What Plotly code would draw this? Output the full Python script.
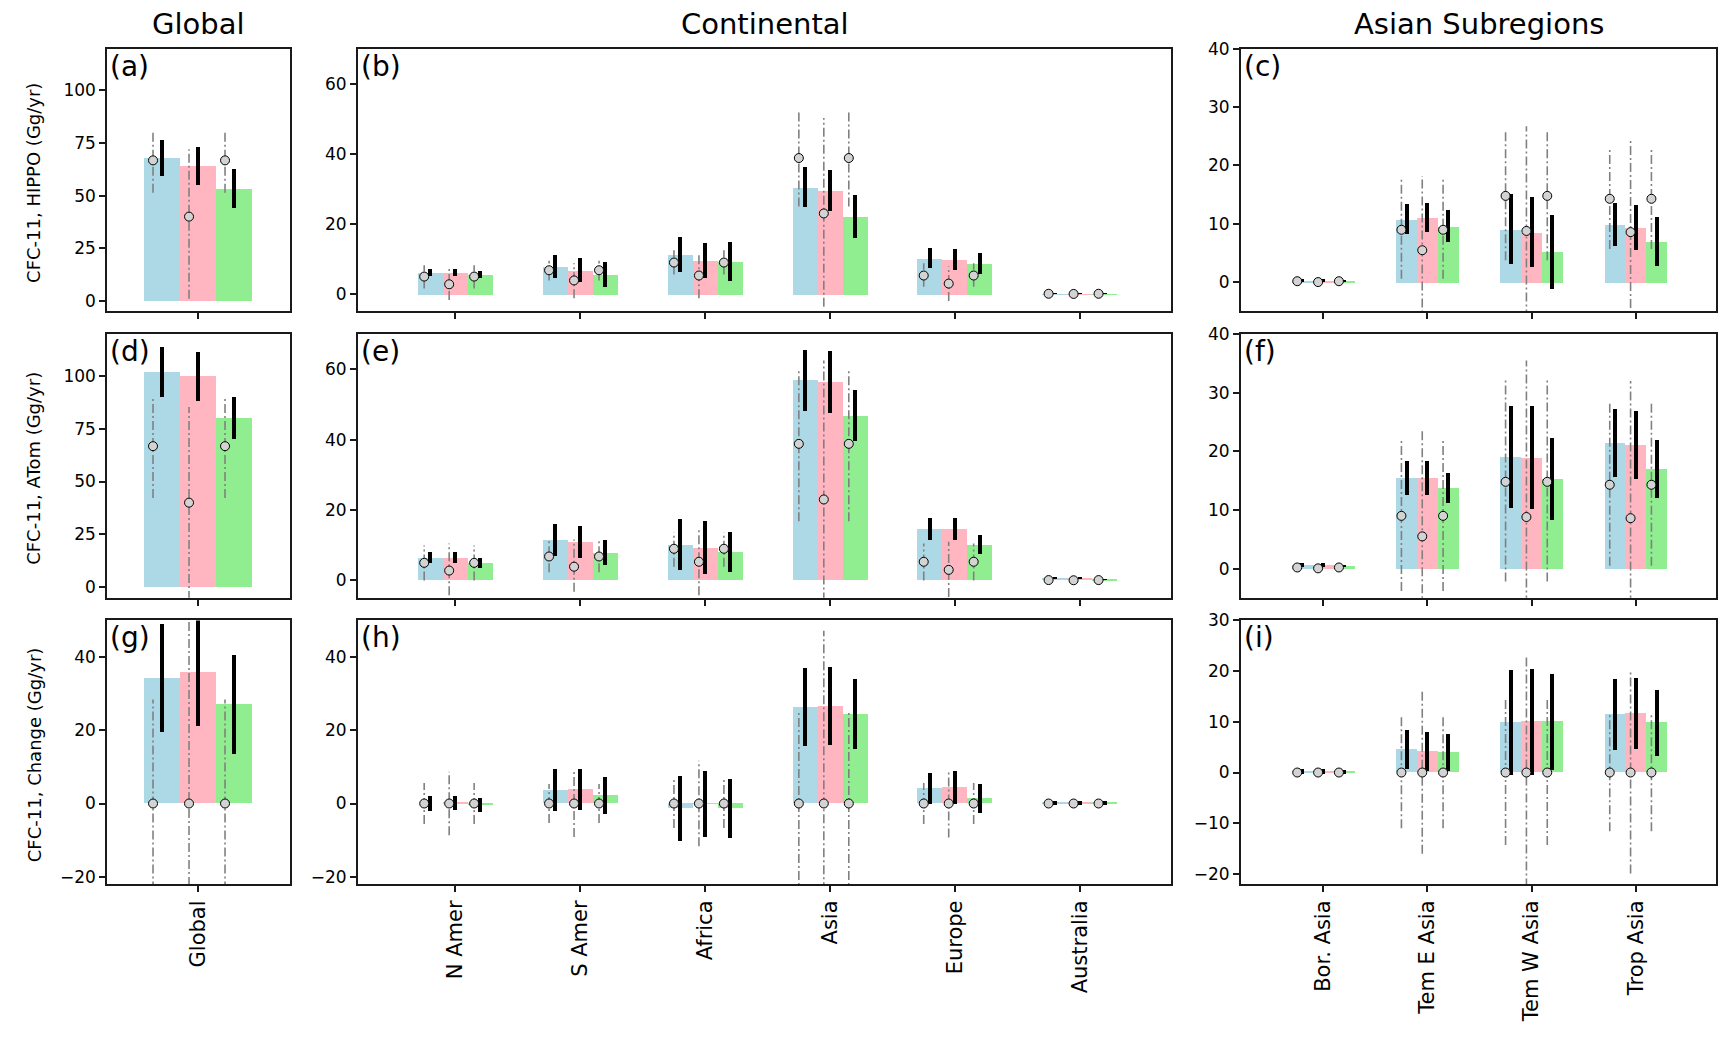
import plotly.graph_objects as go

# page size is 1731x1059; the browser adds an 8px body margin,
# so the figure itself is drawn 16px smaller and shifted by 8px.
PAGE_W, PAGE_H = 1731, 1059
MARGIN = 8
W, H = PAGE_W - 2 * MARGIN, PAGE_H - 2 * MARGIN

# ---------------- categories ----------------
global_cats = ["Global"]
cont_cats = ["N Amer", "S Amer", "Africa", "Asia", "Europe", "Australia"]
asia_cats = ["Bor. Asia", "Tem E Asia", "Tem W Asia", "Trop Asia"]

col_titles = ["Global", "Continental", "Asian Subregions"]
row_titles = ["CFC-11, HIPPO (Gg/yr)", "CFC-11, ATom (Gg/yr)", "CFC-11, Change (Gg/yr)"]
panel_letters = ["(a)", "(b)", "(c)", "(d)", "(e)", "(f)", "(g)", "(h)", "(i)"]

series_colors = ["#add8e6", "#ffb6c1", "#90ee90"]

# ---------------- prior (grey circles) ----------------
prior_global = [[66.7], [40.0], [66.7]]
prior_cont = [[5.0, 6.8, 9.0, 38.8, 5.3, 0.1],
              [2.8, 3.9, 5.3, 23.0, 3.0, 0.05],
              [5.0, 6.8, 9.0, 38.8, 5.3, 0.1]]
prior_asia = [[0.2, 9.0, 14.8, 14.3],
              [0.05, 5.5, 8.8, 8.6],
              [0.2, 9.0, 14.8, 14.3]]
prior_change_global = [[0.0], [0.0], [0.0]]
prior_change_cont = [[0.0] * 6, [0.0] * 6, [0.0] * 6]
prior_change_asia = [[0.0] * 4, [0.0] * 4, [0.0] * 4]

# ---------------- (a) HIPPO global ----------------
a_bars = [[67.8], [64.0], [53.3]]
a_err = [[8.35], [8.9], [9.35]]
a_lo = [[51.3], [1.0], [51.3]]
a_hi = [[80.8], [72.0], [80.8]]

# ---------------- (b) HIPPO continental ----------------
b_bars = [[6.2, 7.9, 11.3, 30.5, 10.2, 0.1],
          [6.2, 6.8, 9.6, 29.6, 9.9, 0.1],
          [5.6, 5.6, 9.3, 22.2, 8.8, 0.1]]
b_err = [[1.1, 3.25, 5.0, 5.75, 2.85, 0.2],
         [1.1, 3.4, 5.1, 5.8, 2.9, 0.2],
         [1.1, 3.5, 5.7, 6.1, 2.95, 0.2]]
b_lo = [[1.6, 3.9, 5.6, 25.0, 2.1, 0.0],
        [-1.7, -1.2, -1.2, -3.6, -2.0, -0.1],
        [1.6, 3.9, 5.6, 25.0, 2.1, 0.0]]
b_hi = [[8.2, 9.5, 12.5, 52.5, 8.8, 0.2],
        [7.6, 8.8, 11.9, 50.2, 7.9, 0.2],
        [8.2, 9.5, 12.5, 52.5, 8.8, 0.2]]

# ---------------- (c) HIPPO Asian subregions ----------------
c_bars = [[0.3, 10.8, 9.1, 9.9],
          [0.3, 11.1, 8.6, 9.4],
          [0.2, 9.6, 5.2, 7.0]]
c_err = [[0.2, 2.55, 5.95, 3.75],
         [0.2, 2.5, 6.0, 3.85],
         [0.15, 2.7, 6.4, 4.15]]
c_lo = [[0.1, 0.6, 3.8, 5.7],
        [0.0, -7.2, -9.1, -7.3],
        [0.1, 0.6, 3.8, 5.7]]
c_hi = [[0.3, 17.6, 25.9, 22.8],
        [0.1, 18.2, 26.7, 24.5],
        [0.3, 17.6, 25.9, 22.8]]

# ---------------- (d) ATom global ----------------
d_bars = [[101.7], [99.8], [80.0]]
d_err = [[11.7], [11.6], [9.75]]
d_lo = [[42.2], [-6.0], [42.2]]
d_hi = [[89.6], [85.2], [89.6]]

# ---------------- (e) ATom continental ----------------
e_bars = [[6.5, 11.6, 10.2, 56.8, 14.5, 0.7],
          [6.5, 10.8, 9.3, 56.5, 14.5, 0.7],
          [5.0, 7.9, 8.2, 46.8, 10.2, 0.3]]
e_err = [[1.65, 4.55, 7.25, 8.8, 3.15, 0.3],
         [1.65, 4.55, 7.45, 8.8, 3.15, 0.3],
         [1.45, 3.55, 5.7, 7.25, 2.65, 0.2]]
e_lo = [[0.0, 2.3, 3.9, 16.8, 0.0, 0.0],
        [-4.2, -3.2, -4.2, -6.0, -4.7, -0.1],
        [0.0, 2.3, 3.9, 16.8, 0.0, 0.0]]
e_hi = [[9.9, 11.3, 13.6, 59.9, 10.5, 0.4],
        [10.5, 11.6, 15.0, 62.5, 11.0, 0.4],
        [9.9, 11.3, 13.6, 59.9, 10.5, 0.4]]

# ---------------- (f) ATom Asian subregions ----------------
f_bars = [[0.6, 15.5, 19.0, 21.4],
          [0.6, 15.5, 18.9, 21.1],
          [0.5, 13.75, 15.3, 17.0]]
f_err = [[0.3, 2.9, 8.65, 5.85],
         [0.3, 2.9, 8.75, 5.85],
         [0.2, 2.55, 7.05, 4.95]]
f_lo = [[0.1, -3.8, -2.2, 0.5],
        [0.0, -12.9, -17.7, -14.8],
        [0.1, -3.8, -2.2, 0.5]]
f_hi = [[0.5, 22.0, 32.1, 28.2],
        [0.1, 23.9, 35.5, 32.0],
        [0.5, 22.0, 32.1, 28.2]]

# ---------------- (g) Change global ----------------
g_bars = [[34.2], [35.8], [27.1]]
g_err = [[14.7], [14.7], [13.5]]
g_lo = [[-28.4], [-55.0], [-28.4]]
g_hi = [[28.4], [55.0], [28.4]]

# ---------------- (h) Change continental ----------------
h_bars = [[0.0, 3.6, -1.4, 26.3, 4.1, 0.1],
          [0.1, 3.8, -0.2, 26.6, 4.4, 0.1],
          [-0.5, 2.2, -1.4, 24.4, 1.3, 0.1]]
h_err = [[2.0, 5.75, 8.9, 10.7, 4.25, 0.6],
         [2.0, 5.6, 9.05, 10.7, 4.4, 0.6],
         [1.9, 5.0, 8.05, 9.6, 4.0, 0.6]]
h_lo = [[-5.6, -5.35, -6.7, -25.5, -5.6, -0.3],
        [-8.65, -9.15, -11.65, -47.2, -9.3, -0.4],
        [-5.6, -5.35, -6.7, -25.5, -5.6, -0.3]]
h_hi = [[5.6, 5.35, 6.7, 25.5, 5.6, 0.3],
        [8.65, 9.15, 11.65, 47.2, 9.3, 0.4],
        [5.6, 5.35, 6.7, 25.5, 5.6, 0.3]]

# ---------------- (i) Change Asian subregions ----------------
i_bars = [[0.2, 4.5, 9.8, 11.4],
          [0.2, 4.1, 10.0, 11.6],
          [0.1, 3.9, 10.0, 9.8]]
i_err = [[0.4, 3.8, 10.35, 7.05],
         [0.4, 3.9, 10.45, 7.05],
         [0.3, 3.6, 9.5, 6.5]]
i_lo = [[-0.1, -11.0, -14.3, -11.6],
        [-0.1, -16.0, -22.7, -19.9],
        [-0.1, -11.0, -14.3, -11.6]]
i_hi = [[0.1, 11.0, 14.3, 11.6],
        [0.1, 16.0, 22.7, 19.9],
        [0.1, 11.0, 14.3, 11.6]]

# ---------------- y ticks ----------------
yt_global = [0, 25, 50, 75, 100]
yt_cont = [0, 20, 40, 60]
yt_asia = [0, 10, 20, 30, 40]
yt_change = [-20, 0, 20, 40]
yt_change_asia = [-20, -10, 0, 10, 20, 30]

# ---------------- layout geometry (page pixels) ----------------
cols_px = [(107.3, 290.0), (358.0, 1171.0), (1241.0, 1716.0)]
rows_px = [(39.0, 305.0), (328.0, 595.0), (618.0, 885.0)]
x_ranges = [[-0.504, 0.511], [-0.78, 5.73], [-0.79, 3.77]]

BAR_W = 0.2
OFFSETS = [-0.2, 0.0, 0.2]
PRIOR_SHIFT = -0.05

FONT = "DejaVu Sans"
AXC = "#1a1a1a"


def fx(px):
    return (px - MARGIN) / W


def fy(py):
    return 1 - (py - MARGIN) / H


panels = [
    (global_cats, a_bars, a_err, prior_global, a_lo, a_hi, [-4.9, 119.7], yt_global),
    (cont_cats, b_bars, b_err, prior_cont, b_lo, b_hi, [-4.9, 70], yt_cont),
    (asia_cats, c_bars, c_err, prior_asia, c_lo, c_hi, [-4.95, 40], yt_asia),
    (global_cats, d_bars, d_err, prior_global, d_lo, d_hi, [-4.9, 119.7], yt_global),
    (cont_cats, e_bars, e_err, prior_cont, e_lo, e_hi, [-4.9, 70], yt_cont),
    (asia_cats, f_bars, f_err, prior_asia, f_lo, f_hi, [-4.95, 40], yt_asia),
    (global_cats, g_bars, g_err, prior_change_global, g_lo, g_hi, [-22, 50], yt_change),
    (cont_cats, h_bars, h_err, prior_change_cont, h_lo, h_hi, [-22, 50], yt_change),
    (asia_cats, i_bars, i_err, prior_change_asia, i_lo, i_hi, [-22, 30], yt_change_asia),
]

fig = go.Figure()
layout_axes = {}
annotations = []

for p, (cats, bars, errs, prior, lo, hi, yr, yt) in enumerate(panels):
    r, c = divmod(p, 3)
    n = p + 1
    xa = "x" if n == 1 else f"x{n}"
    ya = "y" if n == 1 else f"y{n}"
    idx = list(range(len(cats)))

    # bars with black error bars
    for s in range(3):
        fig.add_trace(go.Bar(
            x=[i + OFFSETS[s] for i in idx], y=bars[s], width=BAR_W,
            marker=dict(color=series_colors[s], line=dict(width=0)),
            error_y=dict(type="data", array=errs[s], visible=True,
                         thickness=4, width=0, color="black"),
            xaxis=xa, yaxis=ya, showlegend=False, hoverinfo="skip"))
    # prior dash-dot ranges
    for s in range(3):
        xs, ys = [], []
        for i in idx:
            xp = i + OFFSETS[s] + PRIOR_SHIFT
            xs += [xp, xp, None]
            ys += [lo[s][i], hi[s][i], None]
        fig.add_trace(go.Scatter(
            x=xs, y=ys, mode="lines",
            line=dict(color="#808080", width=1.6, dash="9px,3px,2px,3px"),
            xaxis=xa, yaxis=ya, showlegend=False, hoverinfo="skip"))
    # prior circles
    for s in range(3):
        fig.add_trace(go.Scatter(
            x=[i + OFFSETS[s] + PRIOR_SHIFT for i in idx], y=prior[s],
            mode="markers",
            marker=dict(size=9, color="#d3d3d3", line=dict(color="black", width=1)),
            xaxis=xa, yaxis=ya, showlegend=False, hoverinfo="skip", cliponaxis=True))

    x0, x1 = cols_px[c]
    y0, y1 = rows_px[r]
    key_x = "xaxis" if n == 1 else f"xaxis{n}"
    key_y = "yaxis" if n == 1 else f"yaxis{n}"
    layout_axes[key_x] = dict(
        domain=[fx(x0), fx(x1)], range=x_ranges[c], anchor=ya,
        tickmode="array", tickvals=idx, ticktext=cats,
        showticklabels=(r == 2), tickangle=-90,
        ticks="outside", ticklen=6, tickwidth=1.5, tickcolor=AXC,
        showline=True, linecolor=AXC, linewidth=2, mirror=True,
        showgrid=False, zeroline=False, fixedrange=True,
        tickfont=dict(family=FONT, size=21, color="black"))
    layout_axes[key_y] = dict(
        domain=[fy(y1), fy(y0)], range=yr, anchor=xa,
        tickmode="array", tickvals=yt,
        ticktext=[str(v).replace("-", "\u2212") for v in yt],
        ticks="outside", ticklen=6, tickwidth=1.5, tickcolor=AXC,
        showline=True, linecolor=AXC, linewidth=2, mirror=True,
        showgrid=False, zeroline=False, fixedrange=True,
        tickfont=dict(family=FONT, size=17, color="black"))

    annotations.append(dict(
        text=panel_letters[p], xref="paper", yref="paper",
        x=fx(x0 + 1), y=fy(y0 - 1), xanchor="left", yanchor="top",
        showarrow=False, font=dict(family=FONT, size=28, color="black")))

# column titles
for c, t in enumerate(col_titles):
    x0, x1 = cols_px[c]
    annotations.append(dict(
        text=t, xref="paper", yref="paper", x=fx((x0 + x1) / 2), y=fy(14),
        xanchor="center", yanchor="middle", showarrow=False,
        font=dict(family=FONT, size=29, color="black")))

# row titles
for r, t in enumerate(row_titles):
    y0, y1 = rows_px[r]
    annotations.append(dict(
        text=t, xref="paper", yref="paper", x=fx(34), y=fy((y0 + y1) / 2 + 3),
        xanchor="center", yanchor="middle", textangle=-90, showarrow=False,
        font=dict(family=FONT, size=18, color="black")))

fig.update_layout(
    width=W, height=H, autosize=False,
    margin=dict(l=0, r=0, t=0, b=0),
    paper_bgcolor="white", plot_bgcolor="white",
    barmode="overlay", bargap=0,
    font=dict(family=FONT, color="black"),
    annotations=annotations,
    **layout_axes)

fig.write_html("out.html")
